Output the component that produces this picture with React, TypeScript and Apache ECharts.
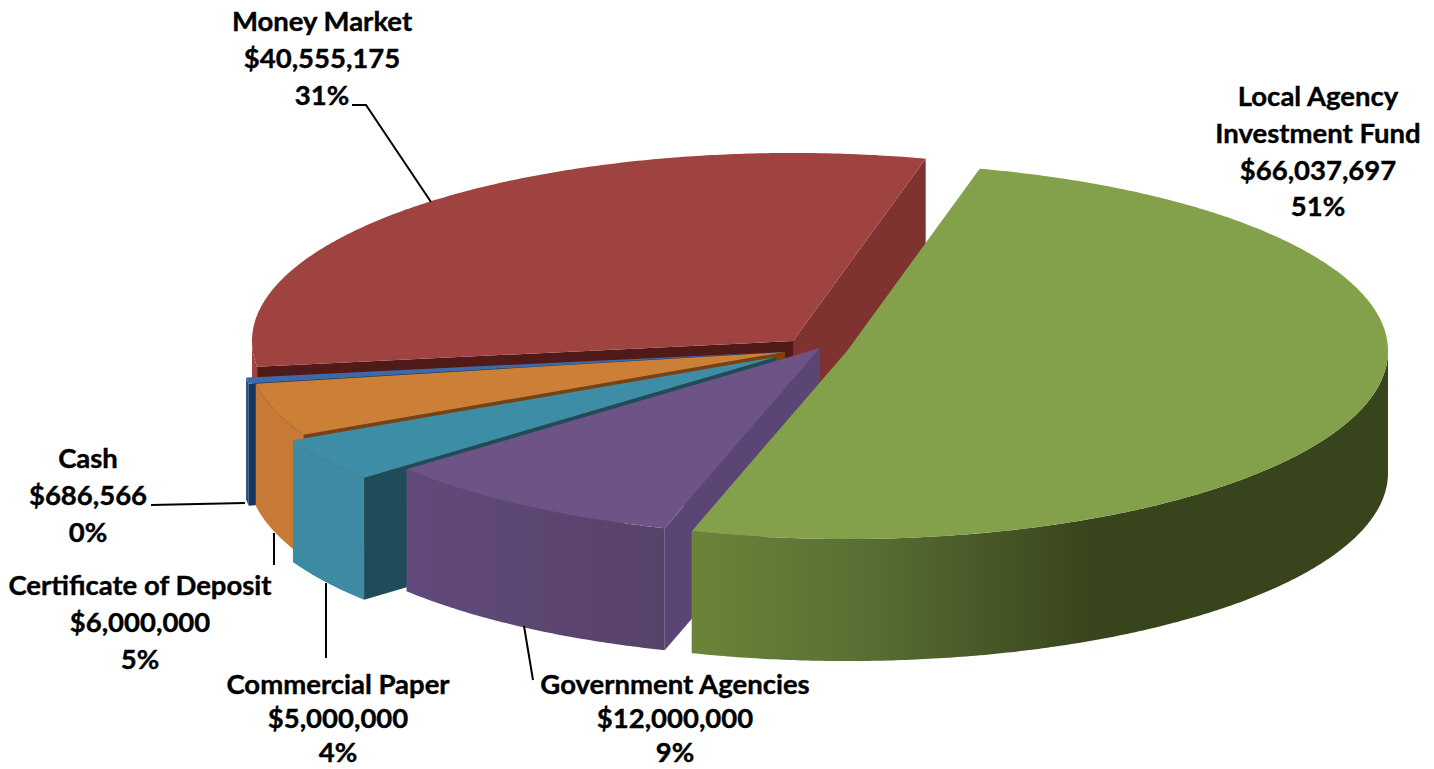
import React, { useEffect, useRef } from "react";
import * as echarts from "echarts";

// Portfolio holdings, listed clockwise starting from the largest slice.
const holdings = [
  "Local Agency Investment Fund",
  "Government Agencies",
  "Commercial Paper",
  "Certificate of Deposit",
  "Cash",
  "Money Market",
];
const amounts = [66037697, 12000000, 5000000, 6000000, 686566, 40555175];
const percentLabels = ["51%", "9%", "4%", "5%", "0%", "31%"];
const nameLines = [
  ["Local Agency", "Investment Fund"],
  ["Government Agencies"],
  ["Commercial Paper"],
  ["Certificate of Deposit"],
  ["Cash"],
  ["Money Market"],
];

// Projection of the tilted disc.
const START_ANGLE = -75.8;
const TILT = 0.3476;
const DEPTH = 122;

// Exploded slice placement: apex x, apex y, radius.
const sliceGeometry = [
  [847, 351, 541],
  [820, 348, 541],
  [776, 357, 539],
  [785, 352, 537],
  [778, 352, 537],
  [793, 341, 541],
];

const topColors = ["#83a04a", "#6e5387", "#3e8da6", "#cc7f37", "#3f68a6", "#9f4341"];
const sideColors = ["#6c8439", "#5b4574", "#1f4c5a", "#7a4210", "#17375c", "#4f1a18"];
const farSideColors = ["#6c8439", "#5b4574", "#1f4c5a", "#7a4210", "#17375c", "#7f3331"];
const rimStops: [number, string][][] = [
  [[0, "#6c8439"], [0.25, "#586f33"], [0.58, "#38441c"], [1, "#38441c"]],
  [[0, "#614a7b"], [1, "#574269"]],
  [[0, "#3d8ba3"], [1, "#3d8ba3"]],
  [[0, "#c87a35"], [1, "#c67a36"]],
  [[0, "#2a4f80"], [1, "#2a4f80"]],
  [[0, "#9f4341"], [1, "#9f4341"]],
];

// Text block placement: centre x, top y, line pitch. The two blocks along the
// bottom run tighter so that their last line stays inside the canvas.
const labelAnchors = [
  [1318, 77, 36.8],
  [675, 666, 34],
  [338, 666, 34],
  [140, 566, 36.8],
  [88, 439, 36.8],
  [322, 2, 36.8],
];
const leaders = [
  [[352, 105], [366, 105], [431, 202]],
  [[151, 505], [245, 503]],
  [[274, 533], [274, 565]],
  [[326, 583], [326, 658]],
  [[524, 626], [533, 680]],
];

const FONT = "Lato, Carlito, sans-serif";
const total = amounts.reduce((a, b) => a + b, 0);

function sliceAngles(index: number): [number, number] {
  let before = 0;
  for (let i = 0; i < index; i++) before += amounts[i];
  const from = START_ANGLE + (before / total) * 360;
  return [from, from + (amounts[index] / total) * 360];
}

function project(cx: number, cy: number, r: number, deg: number): number[] {
  const a = (deg * Math.PI) / 180;
  return [cx + r * Math.cos(a), cy + r * Math.sin(a) * TILT];
}

function arcPoints(cx: number, cy: number, r: number, from: number, to: number): number[][] {
  const pts: number[][] = [];
  const steps = Math.max(2, Math.ceil((to - from) * 2));
  for (let i = 0; i <= steps; i++) pts.push(project(cx, cy, r, from + ((to - from) * i) / steps));
  return pts;
}

const drop = (p: number[]) => [p[0], p[1] + DEPTH];

function cutFace(cx: number, cy: number, r: number, deg: number, fill: string) {
  const rim = project(cx, cy, r, deg);
  const apex = [cx, cy];
  return { type: "polygon", shape: { points: [apex, rim, drop(rim), drop(apex)] }, style: { fill } };
}

function renderSlice(_params: any, api: any) {
  const i = api.value(1);
  const [cx, cy, r] = sliceGeometry[i];
  const [from, to] = sliceAngles(i);
  const children: any[] = [];

  // Radial cuts are only seen when they turn towards the viewer.
  if (Math.cos((from * Math.PI) / 180) < 0) children.push(cutFace(cx, cy, r, from, sideColors[i]));
  if (Math.cos((to * Math.PI) / 180) > 0) children.push(cutFace(cx, cy, r, to, farSideColors[i]));

  // Rim wall: the part of the arc on the front half of the disc.
  const rimFrom = Math.max(from, 0);
  const rimTo = Math.min(to, 180);
  if (rimTo > rimFrom) {
    const rimTop = arcPoints(cx, cy, r, rimFrom, rimTo);
    const rimBottom = rimTop.map(drop).reverse();
    children.push({
      type: "polygon",
      shape: { points: [...rimTop, ...rimBottom] },
      style: {
        fill: new echarts.graphic.LinearGradient(
          0, 0, 1, 0,
          rimStops[i].map(([offset, color]) => ({ offset, color }))
        ),
      },
    });
  }

  // Top face.
  children.push({
    type: "polygon",
    shape: { points: [[cx, cy], ...arcPoints(cx, cy, r, from, to)] },
    style: { fill: topColors[i] },
  });
  return { type: "group", children };
}

function labelText(i: number): string {
  return [...nameLines[i], "$" + amounts[i].toLocaleString("en-US"), percentLabels[i]].join("\n");
}

export default function App() {
  const ref = useRef<HTMLDivElement>(null);
  useEffect(() => {
    const chart = echarts.init(ref.current!, undefined, { renderer: "svg" });
    // Painted back to front: the last holding sits behind the others.
    const paintOrder = holdings.map((name, i) => ({ name, value: [amounts[i], i] })).reverse();
    chart.setOption({
      animation: false,
      backgroundColor: "#ffffff",
      series: [
        {
          type: "custom",
          coordinateSystem: "none",
          silent: true,
          renderItem: renderSlice,
          data: paintOrder,
        },
      ],
      graphic: [
        ...leaders.map((points) => ({
          type: "polyline",
          z: 10,
          silent: true,
          shape: { points },
          style: { stroke: "#000000", lineWidth: 2, fill: "none" },
        })),
        ...labelAnchors.map(([x, y, pitch], i) => ({
          type: "text",
          z: 11,
          silent: true,
          x,
          y,
          style: {
            text: labelText(i),
            font: `bold 27.5px ${FONT}`,
            fill: "#000000",
            stroke: "#000000",
            lineWidth: 0.4,
            align: "center",
            verticalAlign: "top",
            lineHeight: pitch,
          },
        })),
      ],
    });
    return () => chart.dispose();
  }, []);
  return (
    <div
      ref={ref}
      style={{ position: "absolute", left: 0, top: 0, width: 1434, height: 769 }}
    />
  );
}
